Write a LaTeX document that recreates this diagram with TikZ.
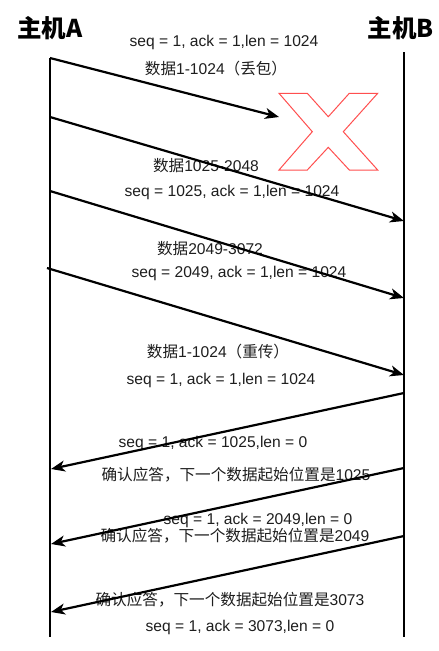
\documentclass[tikz,border=0pt]{standalone}
\usepackage{fontspec}
\setmainfont{Liberation Sans}
\newfontfamily\cjk{Noto Sans CJK SC}
\usetikzlibrary{arrows.meta}
\definecolor{xred}{HTML}{FF4F4F}
\definecolor{txt}{HTML}{1E1E1E}
\begin{document}
\begin{tikzpicture}[x=1pt,y=-1pt,
  lbl/.style={font=\fontsize{15.6}{18}\selectfont, text=txt, inner sep=0pt, text height=11pt, text depth=3pt},
  ttl/.style={font=\cjk\fontsize{24.5}{28}\selectfont\bfseries, inner sep=0pt},
  life/.style={line width=1.5pt},
  msg/.style={line width=2.2pt, -{Stealth[length=14pt,width=11pt,inset=4pt]}},
  xmark/.style={draw=xred, line width=1pt, line join=miter}]
\useasboundingbox (0,0) rectangle (439,651);
\fill[white] (0,0) rectangle (439,651);

% titles
\node[ttl] (hA) at (50,28) {主机A};
\node[ttl] (hB) at (401,28) {主机B};

% lifelines
\coordinate (Atop) at (50,58);
\coordinate (Abot) at (50,637);
\coordinate (Btop) at (404,52);
\coordinate (Bbot) at (404,637);
\draw[life] (Atop) -- (Abot);
\draw[life] (Btop) -- (Bbot);

% message endpoints
\coordinate (s1) at (50,58);   \coordinate (e1) at (279,117);
\coordinate (s2) at (50,117);  \coordinate (e2) at (404,221);
\coordinate (s3) at (50,191);  \coordinate (e3) at (404,298);
\coordinate (s4) at (47,268);  \coordinate (e4) at (404,375);
\coordinate (s5) at (404,393); \coordinate (e5) at (51,469);
\coordinate (s6) at (404,468); \coordinate (e6) at (51,544);
\coordinate (s7) at (404,536); \coordinate (e7) at (51,612);

% labels (drawn first so arrows cross over them)
\node[lbl] (t1)  at (224,42)  {seq = 1, ack = 1,len = 1024};
\node[lbl] (t2)  at (216,70)  {{\cjk 数据}1-1024{\cjk （丢包）}};
\node[lbl] (t3)  at (206,167) {{\cjk 数据}1025-2048};
\node[lbl] (t4)  at (232,192) {seq = 1025, ack = 1,len = 1024};
\node[lbl] (t5)  at (210,250) {{\cjk 数据}2049-3072};
\node[lbl] (t6)  at (239,273) {seq = 2049, ack = 1,len = 1024};
\node[lbl] (t7)  at (218,353) {{\cjk 数据}1-1024{\cjk （重传）}};
\node[lbl] (t8)  at (221,380) {seq = 1, ack = 1,len = 1024};
\node[lbl] (t9)  at (213,443) {seq = 1, ack = 1025,len = 0};
\node[lbl] (t10) at (236,476) {{\cjk 确认应答，下一个数据起始位置是}1025};
\node[lbl] (t11) at (258,520) {seq = 1, ack = 2049,len = 0};
\node[lbl] (t12) at (235,537) {{\cjk 确认应答，下一个数据起始位置是}2049};
\node[lbl] (t13) at (230,601) {{\cjk 确认应答，下一个数据起始位置是}3073};
\node[lbl] (t14) at (240,627) {seq = 1, ack = 3073,len = 0};

% messages
\draw[msg] (s1) -- (e1);
\draw[msg] (s2) -- (e2);
\draw[msg] (s3) -- (e3);
\draw[msg] (s4) -- (e4);
\draw[msg] (s5) -- (e5);
\draw[msg] (s6) -- (e6);
\draw[msg] (s7) -- (e7);

% red X (packet lost)
\draw[xmark] (279,93.3) -- (307.3,93.3) -- (328.3,116.7) -- (349.3,93.3)
  -- (377.7,93.3) -- (343.3,131.7) -- (377.7,170) -- (349.3,170)
  -- (328.3,147.3) -- (307.3,170) -- (279,170) -- (312.3,131.7) -- cycle;
\end{tikzpicture}
\end{document}
